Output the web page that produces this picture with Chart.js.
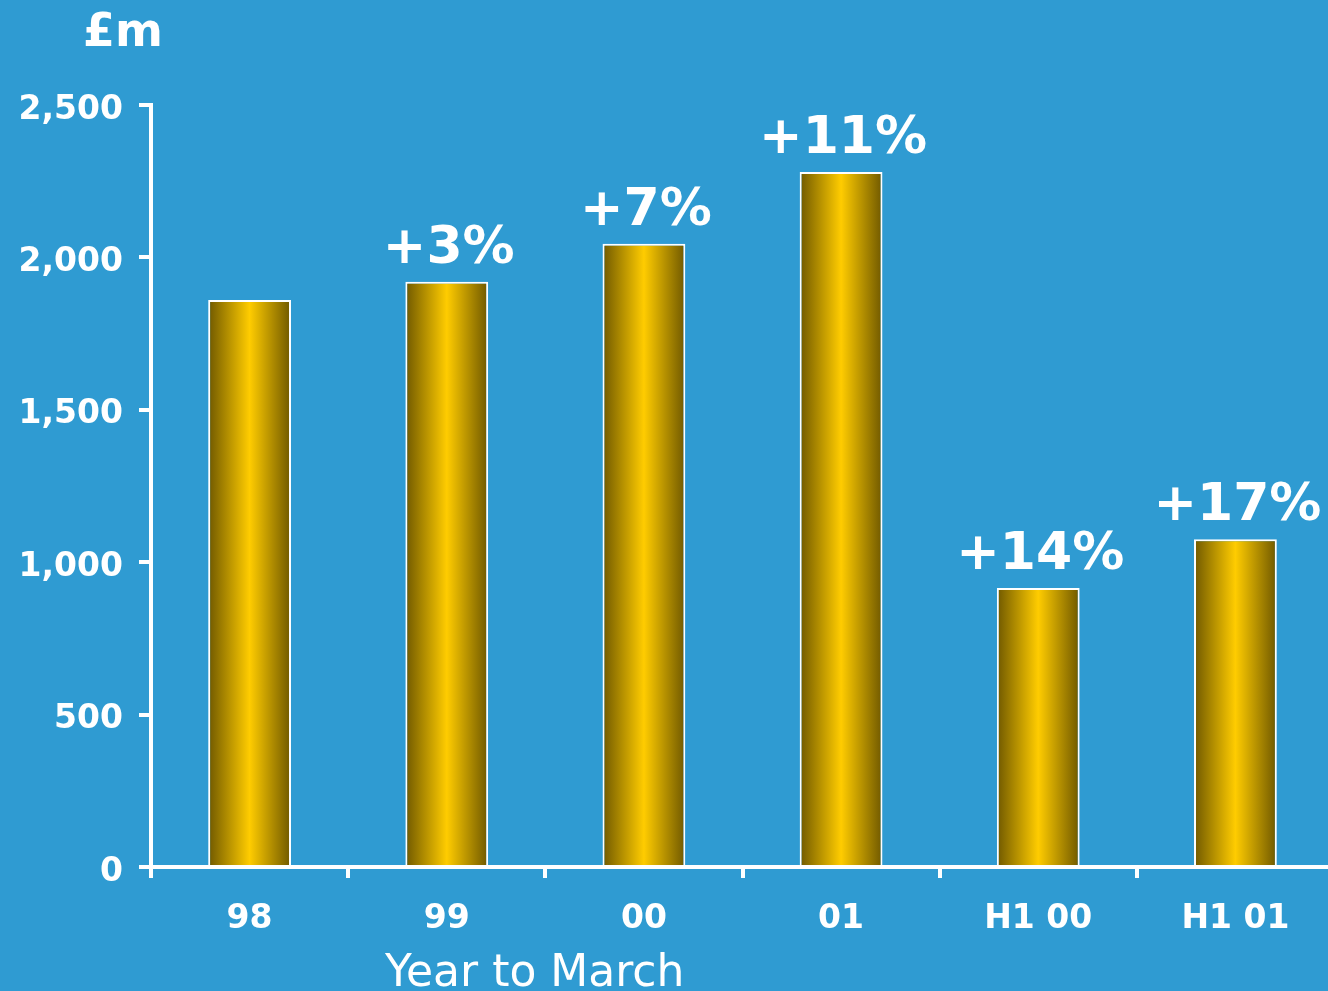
<!DOCTYPE html>
<html>
<head>
<meta charset="utf-8">
<script src="https://cdn.jsdelivr.net/npm/chart.js@4.4.1/dist/chart.umd.min.js"></script>
<style>
  html, body { margin: 0; padding: 0; background: #2f9bd2; overflow: hidden; }
  #wrap { width: 1328px; height: 991px; overflow: hidden; }
</style>
</head>
<body>
<div id="wrap"><canvas id="chart" width="1334" height="991"></canvas></div>
<script>
const categories = ['98', '99', '00', '01', 'H1 00', 'H1 01'];
const sales = [1860, 1920, 2045, 2280, 915, 1075];
const growth = ['', '+3%', '+7%', '+11%', '+14%', '+17%'];
const yTicks = [0, 500, 1000, 1500, 2000, 2500];

const FONT = "'DejaVu Sans', Verdana, sans-serif";
const BAR_PCT = 0.42;

function barGradient(ctx) {
    const chart = ctx.chart;
    if (!chart.chartArea || ctx.dataIndex === undefined) return '#ffcc00';
    const x = chart.scales.x;
    const center = x.getPixelForValue(ctx.dataIndex);
    const half = (x.width / categories.length) * BAR_PCT / 2;
    const g = chart.ctx.createLinearGradient(center - half, 0, center + half, 0);
    g.addColorStop(0, '#6f5800');
    g.addColorStop(0.5, '#ffcc00');
    g.addColorStop(1, '#6f5800');
    return g;
}

const extras = {
    id: 'extras',
    beforeDraw(chart) {
        const c = chart.ctx;
        c.save();
        c.fillStyle = '#2f9bd2';
        c.fillRect(0, 0, chart.width, chart.height);
        c.restore();
    },
    afterDatasetsDraw(chart) {
        const c = chart.ctx;
        const meta = chart.getDatasetMeta(0);
        c.save();
        c.fillStyle = '#ffffff';
        c.textAlign = 'center';
        c.textBaseline = 'alphabetic';
        c.font = 'bold 52px ' + FONT;
        meta.data.forEach((bar, i) => {
            if (growth[i]) c.fillText(growth[i], bar.x + 2, bar.y - 19);
        });
        c.font = 'bold 46px ' + FONT;
        c.textAlign = 'left';
        c.fillText('£m', 83, 46);
        c.font = '44px ' + FONT;
        c.fillText('Year to March', 385, 986);
        c.restore();
    }
};

new Chart(document.getElementById('chart'), {
    type: 'bar',
    data: {
        labels: categories,
        datasets: [{
            data: sales,
            backgroundColor: barGradient,
            borderColor: '#ffffff',
            borderWidth: 2,
            borderSkipped: 'bottom',
            barPercentage: BAR_PCT,
            categoryPercentage: 1
        }]
    },
    options: {
        responsive: false,
        animation: false,
        layout: { padding: { top: 105, right: 0, left: 0, bottom: 0 } },
        plugins: { legend: { display: false }, tooltip: { enabled: false } },
        scales: {
            x: {
                afterFit(scale) { scale.height = 124; },
                grid: { drawOnChartArea: false, drawTicks: true, tickLength: 11, color: '#ffffff', lineWidth: 4 },
                border: { color: '#ffffff', width: 4 },
                ticks: { color: '#ffffff', padding: 22, font: { family: FONT, size: 33, weight: 'bold' } }
            },
            y: {
                min: 0,
                max: 2500,
                afterFit(scale) { scale.width = 151; },
                afterBuildTicks(scale) { scale.ticks = yTicks.map(v => ({ value: v })); },
                grid: { drawOnChartArea: false, drawTicks: true, tickLength: 12, color: '#ffffff', lineWidth: 4 },
                border: { color: '#ffffff', width: 4 },
                ticks: {
                    color: '#ffffff',
                    padding: 16,
                    labelOffset: 5,
                    font: { family: FONT, size: 33, weight: 'bold' },
                    callback: v => v.toLocaleString('en-US')
                }
            }
        }
    },
    plugins: [extras]
});
</script>
</body>
</html>
